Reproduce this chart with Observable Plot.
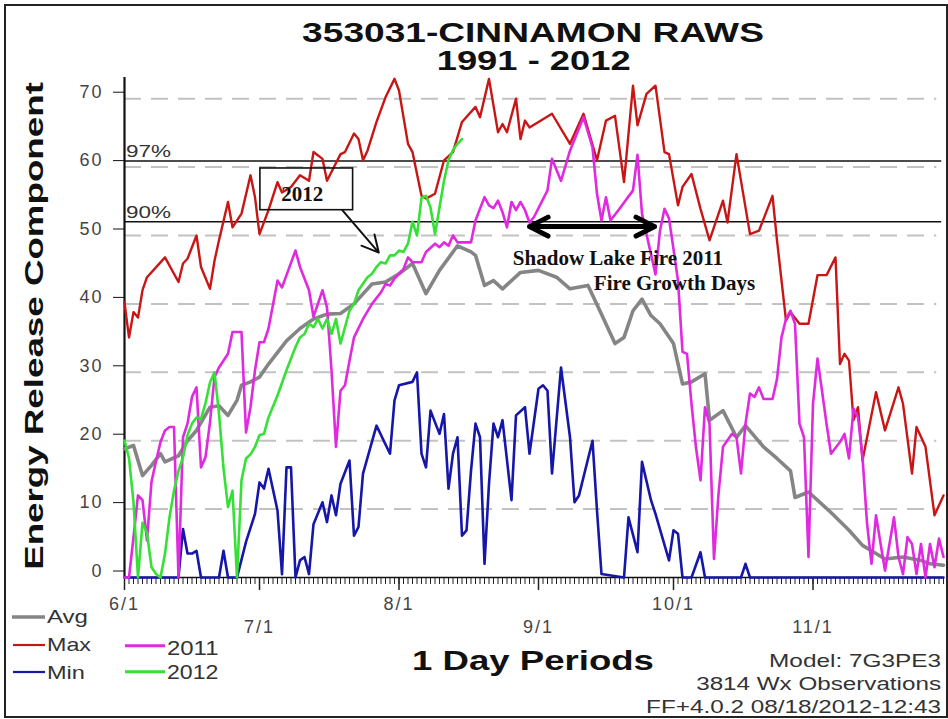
<!DOCTYPE html>
<html><head><meta charset="utf-8">
<script src="https://cdn.jsdelivr.net/npm/d3@7"></script>
<script src="https://cdn.jsdelivr.net/npm/@observablehq/plot@0.6"></script>
<style>body{margin:0;background:#fff;}</style>
</head><body><div id="chart"></div>
<script>
// ---- data (day index from 6/1, ERC value) ----
const avgSeries = [[0,18.8],[2,19.3],[4,14.9],[6,16.4],[8,18.1],[9,16.9],[12,17.8],[14,20],[16,21.5],[19,24.9],[21,25.1],[23,23.7],[25,25.9],[26,28.1],[28,28.6],[30,29.3],[32,31.2],[36,34.6],[39,36.4],[42,37.8],[45,38.5],[48,38.6],[51,40],[55,42.9],[58,43.2],[61,44.4],[64,45.9],[67,41.5],[70,44.9],[74,48.5],[77,47.6],[78,47.1],[80,42.7],[82,43.4],[84,42.2],[88,44.6],[92,44.9],[96,43.9],[99,42.2],[103,42.7],[106,38.5],[109,34.2],[111,35.1],[113,39],[115,40.7],[117,38.3],[119,37.1],[122,34.2],[124,28.3],[126,28.6],[129,29.8],[130,23],[133,24.4],[136,20.5],[138,22.2],[142,19.1],[145,17.4],[148,15.6],[149,11.7],[152,12.5],[157,9.5],[161,6.9],[164,4.7],[167,3.5],[169,2.7],[173,3],[177,2.5],[179,2],[182,1.8]];
const maxSeries = [[0,40.2],[1,35.1],[2,38.8],[3,38.0],[4,42.0],[5,43.9],[9,46.8],[12,43.2],[13,45.9],[14,46.6],[16,50.0],[17,45.4],[19,42.2],[20,46.3],[21,49.3],[23,54.9],[24,51.2],[26,53.2],[28,58.8],[29,55.6],[30,50.2],[32,53.7],[34,57.8],[35,56.3],[37,57.1],[39,58.8],[41,58.0],[42,62.2],[44,61.2],[45,58.0],[48,61.9],[49,62.2],[51,64.9],[52,64.1],[53,61.0],[54,62.4],[56,66.6],[58,70.2],[60,72.9],[61,71.2],[63,63.4],[64,62.2],[65,59.0],[66,55.8],[67,55.4],[69,56.1],[71,61.0],[73,62.2],[75,66.6],[78,68.8],[79,67.3],[81,72.9],[83,65.1],[84,66.3],[85,65.1],[87,70.0],[88,64.1],[89,66.8],[90,65.8],[95,67.8],[99,63.4],[102,67.8],[105,61.0],[107,66.8],[109,67.5],[111,57.8],[113,71.9],[114,66.1],[116,70.7],[118,71.9],[120,62.2],[121,61.9],[123,54.4],[124,57.1],[126,59.0],[128,53.9],[130,49.3],[133,55.1],[134,51.9],[136,61.9],[139,50.2],[141,50.7],[144,55.8],[145,49.3],[147,37.6],[148,38.8],[150,37.1],[152,37.1],[154,44.2],[156,44.2],[158,46.8],[159,31.2],[160,32.7],[161,31.7],[162,23.0],[163,24.9],[164,17.1],[167,27.1],[169,21.5],[172,27.8],[173,25.4],[175,15.2],[176,22.0],[178,19.1],[180,9.1],[182,12.0]];
const minSeries = [[0,0],[12,0],[13,7.1],[14,3.5],[15,3.5],[16,3.9],[17,0],[21,0],[22,3.9],[23,0],[25,0],[27,5.2],[29,9.3],[30,13.9],[31,13.0],[32,15.9],[34,9.8],[35,0.5],[36,16.1],[37,16.1],[38,0],[39,2.5],[40,3.0],[41,0.5],[42,7.8],[44,11.0],[45,8.1],[46,12.0],[47,9.1],[48,13.7],[50,17.1],[51,6.1],[52,7.4],[53,15.2],[56,22.2],[59,18.1],[60,25.9],[61,28.1],[64,28.6],[65,30.0],[66,18.1],[67,16.1],[68,24.4],[70,21.0],[71,23.9],[72,13.0],[73,18.1],[74,20.5],[75,6.1],[76,6.9],[77,15.6],[78,22.5],[79,20.5],[80,2.0],[81,13.7],[82,22.5],[83,20.5],[84,23.0],[86,11.3],[87,23.7],[89,24.9],[90,18.1],[92,27.6],[93,28.1],[94,27.3],[95,15.2],[97,30.7],[99,20.5],[100,11.0],[101,12.0],[104,20.0],[105,9.8],[106,0.5],[111,0],[112,8.8],[114,3.7],[115,16.9],[117,11.3],[118,9.3],[121,2.5],[122,6.9],[123,6.4],[124,0],[126,0],[128,3.7],[129,0],[137,0],[138,2.0],[139,0],[182,0]];
const y2011Series = [[0,0],[1,0],[2,5.9],[3,12.0],[4,11.3],[5,5.4],[6,14.0],[7,17.0],[8,19.8],[9,21.5],[10,22.0],[11,22.0],[12,0],[13,20.5],[14,22.5],[15,26.4],[16,27.8],[17,16.1],[18,17.6],[19,22.7],[20,29.3],[21,30.7],[23,32.7],[24,35.9],[26,35.9],[27,21.2],[28,24.9],[29,30.3],[30,34.4],[31,34.4],[32,36.4],[34,43.4],[35,42.4],[36,44.2],[38,47.8],[39,45.4],[41,42.0],[42,38.1],[44,42.0],[45,39.5],[46,30.3],[47,19.1],[48,27.3],[49,28.1],[50,31.7],[51,35.1],[53,37.8],[55,40.0],[57,41.7],[58,42.9],[59,42.7],[60,43.7],[61,44.4],[62,45.1],[63,46.8],[64,46.1],[66,46.1],[67,47.6],[69,48.8],[70,48.3],[71,49.0],[72,48.5],[73,50.0],[74,49.0],[77,49.0],[78,52.2],[79,53.9],[80,55.6],[81,54.4],[82,54.0],[83,55.1],[84,53.4],[85,51.2],[86,54.9],[87,53.7],[88,54.9],[89,53.7],[90,51.9],[91,52.7],[94,56.6],[95,61.2],[97,58.0],[99,62.4],[102,67.3],[104,62.9],[105,56.1],[106,52.2],[107,55.6],[108,52.2],[110,53.9],[113,56.6],[114,61.8],[115,53.2],[116,50.2],[118,44.3],[119,50.7],[120,53.9],[121,52.5],[122,48.0],[123,43.4],[124,33.0],[125,32.7],[126,25.4],[127,19.0],[128,14.2],[129,24.9],[130,22.5],[131,2.7],[132,12.2],[133,19.1],[135,21.0],[136,20.5],[137,15.2],[138,22.5],[139,26.9],[140,26.4],[141,27.8],[142,26.1],[144,26.1],[145,29.0],[146,35.1],[147,37.8],[148,39.0],[149,37.1],[150,22.5],[151,20.5],[152,3.0],[153,25.4],[154,32.0],[155,27.3],[156,22.5],[157,18.1],[159,19.8],[160,21.0],[161,17.4],[162,24.7],[163,23.4],[164,17.6],[165,8.0],[166,2.0],[167,9.1],[168,5.0],[169,1.0],[171,8.8],[172,3.0],[173,0.5],[174,5.9],[175,4.9],[176,0.5],[177,4.9],[178,0],[179,4.9],[180,1.5],[181,5.7],[182,3.0]];
const y2012Series = [[0,20],[1,17.5],[2,11],[3,0],[4,8.0],[5,6.5],[6,1.5],[7,0.5],[8,0],[9,3.5],[10,8.8],[11,12.7],[12,15.6],[13,17.6],[14,20.8],[15,22.5],[16,23.4],[17,23.2],[18,25.5],[19,28.5],[20,30.0],[21,24.0],[22,16.0],[23,10.3],[24,12.7],[25,0],[26,14.2],[27,17.4],[28,18.0],[29,19.1],[30,20.8],[31,21.0],[32,23.4],[34,26.6],[36,30.3],[38,33.7],[39,35.1],[40,35.6],[41,37.1],[42,36.6],[43,37.8],[44,36.4],[45,37.8],[46,35.6],[47,37.8],[48,34.2],[50,39.0],[51,40.0],[52,42.0],[54,43.9],[55,44.4],[56,45.4],[57,46.1],[58,45.9],[59,47.1],[60,47.1],[61,47.8],[62,47.6],[63,48.8],[64,52.0],[65,50.0],[66,55.5],[67,55.8],[68,54.1],[69,50.2],[70,54.1],[71,58.0],[72,61.0],[73,62.5],[74,63.4],[75,64.1]];

const seriesNames = ["Avg","Max","Min","2011","2012"];
const seriesColors = ["#858585","#c81616","#1616a8","#e02ae0","#36e036"];

const yTicks = [0,10,20,30,40,50,60,70];
const gridValues = [10,20,30,40,50,60,70];
const monthTicks = [0,30,61,92,122,153];
const monthLabels = ["6/1","7/1","8/1","9/1","10/1","11/1"];
const dayTicks = d3.range(0, 183);
const pctValues = [60.9, 52.0];
const pctLabels = ["97%","90%"];

// annotations (data coordinates: day, ERC)
const box2012 = [{x1: 30.2, x2: 50.8, y1: 53.7, y2: 59.8, label: "2012", lx: 39.5, ly: 56.1}];
const arrow2012 = [{x1: 48.4, y1: 53.7, x2: 56.5, y2: 47.5}];
const fireSpan = {start: 90, end: 117.8, value: 51.3};
const fireNotes = [{x: 86.3, y: 46.6, text: "Shadow Lake Fire 2011"}, {x: 104.3, y: 43.0, text: "Fire Growth Days"}];

const row1 = monthTicks.filter((d, i) => i % 2 === 0);
const row2 = monthTicks.filter((d, i) => i % 2 === 1);
const fmt = d => monthLabels[monthTicks.indexOf(d)];
const fireMid = (fireSpan.start + fireSpan.end) / 2;
const fireArrows = [
  {x1: fireMid, x2: fireSpan.start, y: fireSpan.value},
  {x1: fireMid, x2: fireSpan.end, y: fireSpan.value}
];
const lineOpt = (i, w) => ({x: d => d[0], y: d => d[1], stroke: seriesColors[i], strokeWidth: w, strokeLinejoin: "round"});

const chart = Plot.plot({
  width: 948, height: 719,
  marginLeft: 124, marginRight: 5, marginTop: 77, marginBottom: 142,
  x: {domain: [0, 182]},
  y: {domain: [0, 73.1]},
  style: {background: "#fff", fontFamily: "'Liberation Sans', Arial, sans-serif", color: "#111"},
  marks: [
    Plot.ruleY(gridValues, {x1: 0, x2: 180.5, stroke: "#c2c2c2", strokeWidth: 2, strokeDasharray: "17,10"}),
    Plot.ruleY(pctValues, {x1: 0, x2: 181.6, stroke: "#111", strokeWidth: 1.6}),
    Plot.axisY(yTicks, {tickSize: 11, tickPadding: 10, fontSize: 18, dy: -6.5, stroke: "#111", fill: "#444", label: null}),
    Plot.axisX(dayTicks, {tickSize: 7, text: null, stroke: "#222", label: null}),
    Plot.axisX(monthTicks, {tickSize: 13, text: null, stroke: "#222", strokeWidth: 1.5, label: null}),
    Plot.axisX(row1, {tickSize: 0, tickPadding: 20, tickFormat: fmt, fontSize: 18, fill: "#444", label: null}),
    Plot.axisX(row2, {tickSize: 0, tickPadding: 43, tickFormat: fmt, fontSize: 18, fill: "#444", label: null}),
    Plot.ruleX([0], {stroke: "#111", strokeWidth: 2.2}),
    Plot.ruleY([0], {stroke: "#111", strokeWidth: 1.5}),
    Plot.line(avgSeries, lineOpt(0, 3.6)),
    Plot.line(maxSeries, lineOpt(1, 2.4)),
    Plot.line(minSeries, lineOpt(2, 2.6)),
    Plot.line(y2011Series, lineOpt(3, 2.6)),
    Plot.line(y2012Series, lineOpt(4, 2.6)),
    Plot.rect(box2012, {x1: "x1", x2: "x2", y1: "y1", y2: "y2", fill: "none", stroke: "#111", strokeWidth: 1.6}),
    Plot.text(box2012, {x: "lx", y: "ly", text: "label", fontFamily: "'Liberation Serif', 'Times New Roman', serif", fontWeight: "bold", fontSize: 21, fill: "#111"}),
    Plot.arrow(arrow2012, {x1: "x1", y1: "y1", x2: "x2", y2: "y2", stroke: "#111", strokeWidth: 2, headLength: 20, headAngle: 55}),
    Plot.arrow(fireArrows, {x1: "x1", y1: "y", x2: "x2", y2: "y", stroke: "#000", strokeWidth: 5, headLength: 22, headAngle: 54}),
    Plot.text(fireNotes, {x: "x", y: "y", text: "text", textAnchor: "start", fontFamily: "'Liberation Serif', 'Times New Roman', serif", fontWeight: "bold", fontSize: 21, fill: "#111"})
  ]
});

document.getElementById("chart").appendChild(chart);
const svg = d3.select(chart);
svg.selectAll('g[aria-label="y-axis tick label"] text, g[aria-label="x-axis tick label"] text').attr("letter-spacing", "2px");

const SANS = "'Liberation Sans', Arial, sans-serif";
// text stretched horizontally (like the source renderer's wide face) to a target length
function addText(t, x, y, o) {
  const el = svg.append("text").attr("x", x).attr("y", y).text(t)
    .attr("font-family", SANS).attr("font-size", o.size)
    .attr("font-weight", o.weight || "normal").attr("fill", o.fill || "#111")
    .attr("text-anchor", o.anchor || "start");
  let s = 1;
  if (o.length) {
    const L = el.node().getComputedTextLength();
    if (L > 0) s = o.length / L;
  }
  const rot = o.rotate ? ` rotate(${o.rotate})` : "";
  el.attr("transform", `translate(${x},${y})${rot} scale(${s},1) translate(${-x},${-y})`);
  return el;
}
// frame
svg.append("rect").attr("x", 5).attr("y", 5).attr("width", 942).attr("height", 712)
  .attr("fill", "none").attr("stroke", "#222").attr("stroke-width", 2);
// percentile labels positioned by the chart's scales
const sx = chart.scale("x"), sy = chart.scale("y");
pctLabels.forEach((t, i) => addText(t, sx.apply(0) + 2, sy.apply(pctValues[i]) - 3.5, {size: 17, fill: "#333", length: 45}));
// titles
addText("353031-CINNAMON RAWS", 533, 42, {size: 28, weight: "bold", anchor: "middle", length: 462});
addText("1991 - 2012", 533.7, 70, {size: 28, weight: "bold", anchor: "middle", length: 194});
addText("Energy Release Component", 43, 326, {size: 25, weight: "bold", anchor: "middle", length: 488, rotate: -90});
addText("1 Day Periods", 533, 670, {size: 28, weight: "bold", anchor: "middle", length: 242});
// legend
const legendLayout = [
  {x1: 12, x2: 45, y: 617, tx: 47, ty: 623.5, len: 41, size: 18.5, w: 3.6},
  {x1: 13, x2: 45, y: 645, tx: 47, ty: 651.5, len: 44, size: 18.5, w: 2.2},
  {x1: 13, x2: 45, y: 672, tx: 47, ty: 679.3, len: 38, size: 18.5, w: 2.2},
  {x1: 125, x2: 165, y: 645.7, tx: 167, ty: 655.5, len: 51.5, size: 20.5, w: 3},
  {x1: 125, x2: 165, y: 671.7, tx: 167, ty: 679.5, len: 51.5, size: 20.5, w: 3}
];
seriesNames.forEach((name, i) => {
  const L = legendLayout[i];
  svg.append("line").attr("x1", L.x1).attr("x2", L.x2).attr("y1", L.y).attr("y2", L.y)
    .attr("stroke", seriesColors[i]).attr("stroke-width", L.w);
  addText(name, L.tx, L.ty, {size: L.size, fill: "#333", length: L.len});
});
// footnotes
addText("Model: 7G3PE3", 941, 666.7, {size: 18.5, fill: "#333", anchor: "end", length: 172});
addText("3814 Wx Observations", 941, 690, {size: 18.5, fill: "#333", anchor: "end", length: 245});
addText("FF+4.0.2 08/18/2012-12:43", 941, 712.7, {size: 18.5, fill: "#333", anchor: "end", length: 295});
</script></body></html>
